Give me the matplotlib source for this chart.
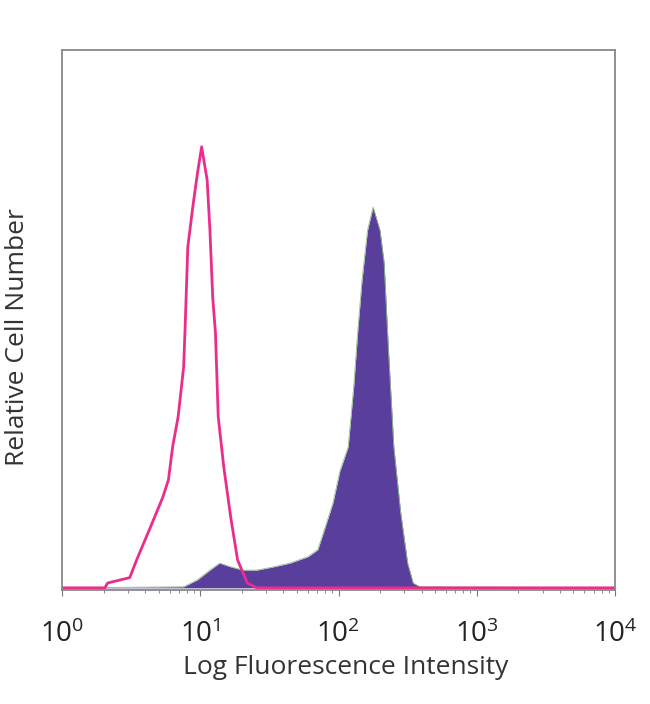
import numpy as np
import matplotlib.pyplot as plt
from matplotlib.ticker import LogLocator, FixedLocator

# isotype control (magenta outline), log10 intensity vs relative count
ctrl_log = [0.0, 0.31, 0.33, 0.49, 0.54, 0.64, 0.73, 0.77, 0.80, 0.84, 0.88, 0.89,
            0.91, 0.95, 0.98, 1.01, 1.05, 1.07, 1.09, 1.11, 1.13, 1.17, 1.22, 1.27,
            1.34, 1.41, 4.0]
ctrl_cnt = [0, 0, 0.9, 1.9, 5.2, 11.3, 16.9, 20.1, 26.2, 31.8, 41.1, 48.0,
            63.4, 71.6, 77.1, 82.0, 75.8, 66.5, 54.1, 47.4, 31.8, 22.5, 13.2, 5.2,
            0.9, 0, 0]

# stained sample (purple filled)
stain_log = [0.0, 0.88, 0.98, 1.07, 1.14, 1.22, 1.31, 1.41, 1.53, 1.65, 1.78, 1.85,
             1.89, 1.96, 2.01, 2.07, 2.11, 2.14, 2.17, 2.21, 2.25, 2.30, 2.33, 2.36,
             2.40, 2.45, 2.50, 2.54, 2.59, 4.0]
stain_cnt = [0, 0.2, 1.5, 3.3, 4.6, 3.9, 3.3, 3.3, 3.9, 4.6, 5.8, 7.1,
             10.2, 15.8, 21.7, 26.2, 37.4, 48.0, 57.2, 66.5, 70.8, 66.5, 60.4, 44.8,
             26.2, 13.9, 4.6, 0.9, 0.2, 0]

tick_labels = ['$10^0$', '$10^1$', '$10^2$', '$10^3$', '$10^4$']

plt.rcParams['font.family'] = ['Open Sans', 'DejaVu Sans']
plt.rcParams['mathtext.fontset'] = 'custom'
plt.rcParams['mathtext.rm'] = 'Open Sans'
plt.rcParams['mathtext.it'] = 'Open Sans'

fig = plt.figure(figsize=(6.5, 7.04), dpi=100)
ax = fig.add_axes([62/650, 114/704, 553/650, 540/704])

sx = 10 ** np.array(stain_log)
cx = 10 ** np.array(ctrl_log)
ax.fill_between(sx, 0, stain_cnt, color='#5a3e9b', lw=0)
ax.plot(sx, stain_cnt, color='#8fbf8a', lw=0.6)
ax.plot(cx, ctrl_cnt, color='#ea2d8c', lw=2)

ax.set_xscale('log')
ax.set_xlim(1, 1e4)
ax.set_ylim(-0.4, 100)
ax.set_yticks([])
ax.xaxis.set_major_locator(FixedLocator([1, 10, 100, 1000, 10000]))
ax.xaxis.set_minor_locator(LogLocator(base=10, subs=np.arange(2, 10)))
ax.set_xticklabels(tick_labels, fontsize=20, color='#222222')
ax.tick_params(axis='x', which='major', length=4, color='#777777', pad=18)
ax.tick_params(axis='x', which='minor', length=2.5, color='#777777')
for s in ax.spines.values():
    s.set_color('#888888')
    s.set_linewidth(1.3)

fig.text(346/650, 1 - 668/704, 'Log Fluorescence Intensity', fontsize=19,
         color='#333333', ha='center', va='center')
fig.text(18/650, 1 - 337/704, 'Relative Cell Number', rotation=90, fontsize=19,
         color='#333333', ha='center', va='center')

fig.savefig('out.png', dpi=100)
